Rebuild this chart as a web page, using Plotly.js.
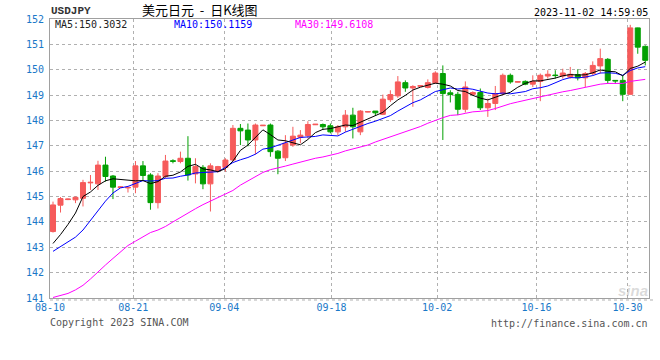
<!DOCTYPE html>
<html>
<head>
<meta charset="utf-8">
<script src="https://cdn.plot.ly/plotly-3.0.1.min.js"></script>
<style>html,body{margin:0;padding:0;background:#fff;}#chart{width:660px;height:360px;}</style>
</head>
<body>
<div id="chart"></div>
<script>
// ---- data (USDJPY daily K) ----
const openV  = [143.62,144.66,144.88,144.87,144.93,145.54,145.50,146.24,145.81,145.36,
                145.34,145.37,146.21,145.85,144.76,145.79,146.41,146.38,146.51,145.89,
                146.15,145.50,146.01,146.15,146.44,147.69,147.62,147.23,147.79,147.82,
                146.79,146.53,147.03,147.34,147.40,147.83,147.84,147.79,147.55,147.75,
                148.21,147.55,148.33,148.37,148.24,148.82,148.97,149.49,149.28,149.35,
                149.30,149.48,149.85,149.09,149.03,148.44,149.03,149.10,148.50,148.67,
                149.06,149.78,149.51,149.54,149.43,149.54,149.75,149.79,149.75,149.71,
                149.81,149.68,149.85,150.15,150.41,149.58,149.58,149.03,151.65,150.92];
const highV  = [144.80,144.98,144.92,145.00,145.66,145.85,146.41,146.57,145.85,145.40,
                145.37,146.40,146.40,145.92,145.92,146.64,146.47,146.77,147.38,146.51,
                146.24,146.31,146.21,146.51,147.82,147.86,147.88,147.88,147.82,147.88,
                146.83,147.42,147.75,147.62,147.97,147.86,147.88,147.88,147.82,148.41,
                148.50,148.41,148.36,148.37,149.02,149.19,149.75,149.58,149.39,149.38,
                149.62,149.94,150.17,149.19,149.13,149.54,149.15,149.26,148.86,149.36,
                149.85,149.85,149.54,149.58,149.78,149.85,149.98,149.98,150.04,150.11,
                150.02,149.91,150.33,150.83,150.46,149.58,149.78,151.77,151.66,150.96];
const lowV   = [143.58,144.37,144.86,144.74,144.61,145.26,145.26,145.59,144.90,145.34,
                145.16,145.13,145.63,144.48,144.53,145.72,146.31,146.31,145.63,145.52,
                145.29,144.41,145.94,145.98,146.38,147.03,146.98,146.66,147.78,146.57,
                145.88,146.40,146.96,147.10,147.29,147.82,147.62,147.49,147.42,147.55,
                147.29,147.42,148.32,148.18,148.21,148.73,148.89,149.13,148.54,149.34,
                149.26,149.45,147.23,148.71,148.21,148.31,148.99,148.41,148.14,148.41,
                148.99,149.45,149.50,149.39,149.32,148.76,149.65,149.65,149.65,149.65,
                149.58,149.32,149.78,149.85,149.45,149.45,148.76,149.02,150.63,150.17];
const closeV = [144.67,144.92,144.90,144.97,145.55,145.56,146.24,145.79,145.37,145.38,
                145.36,146.21,145.83,144.76,145.81,146.40,146.39,146.51,145.85,146.18,
                145.50,146.21,146.18,146.44,147.69,147.59,147.23,147.82,147.81,146.77,
                146.51,147.10,147.38,147.42,147.84,147.85,147.75,147.55,147.75,148.21,
                147.75,148.37,148.35,148.30,148.84,149.02,149.52,149.28,149.34,149.37,
                149.49,149.87,149.06,149.02,148.44,149.32,149.10,148.50,148.67,149.06,
                149.78,149.52,149.53,149.43,149.54,149.78,149.82,149.77,149.87,149.82,
                149.68,149.85,150.17,150.44,149.58,149.56,149.03,151.65,150.89,150.37];
const ma5    = [143.15,143.50,143.90,144.35,145.00,145.18,145.44,145.62,145.70,145.67,
                145.63,145.62,145.63,145.51,145.59,145.80,145.84,145.97,146.19,146.27,
                146.09,146.05,145.98,146.10,146.40,146.82,147.03,147.35,147.63,147.44,
                147.23,147.20,147.11,147.04,147.25,147.52,147.65,147.68,147.75,147.82,
                147.80,147.93,148.09,148.20,148.32,148.58,148.81,148.99,149.20,149.31,
                149.40,149.47,149.43,149.36,149.18,149.14,148.99,148.88,148.81,148.93,
                149.02,149.11,149.31,149.46,149.56,149.56,149.62,149.67,149.76,149.81,
                149.79,149.80,149.88,149.99,149.94,149.92,149.76,150.05,150.14,150.30];
const ma10   = [142.84,143.02,143.19,143.40,143.68,144.06,144.45,144.82,145.14,145.34,
                145.40,145.53,145.63,145.61,145.63,145.72,145.73,145.80,145.85,145.93,
                145.94,145.94,145.98,146.15,146.34,146.45,146.54,146.67,146.87,146.92,
                147.03,147.11,147.23,147.33,147.35,147.37,147.43,147.40,147.39,147.54,
                147.66,147.79,147.88,147.97,148.07,148.19,148.37,148.54,148.70,148.81,
                148.99,149.14,149.21,149.28,149.24,149.27,149.23,149.15,149.08,149.05,
                149.08,149.05,149.09,149.14,149.25,149.29,149.36,149.49,149.61,149.69,
                149.68,149.71,149.77,149.87,149.88,149.86,149.78,149.97,150.07,150.12];
const ma30   = [141.02,141.10,141.18,141.32,141.50,141.75,142.04,142.30,142.56,142.82,
                143.07,143.24,143.42,143.58,143.68,143.82,144.00,144.18,144.35,144.52,
                144.68,144.82,144.93,145.07,145.24,145.45,145.62,145.80,145.95,146.06,
                146.12,146.20,146.28,146.36,146.44,146.51,146.56,146.62,146.70,146.80,
                146.88,146.95,147.03,147.15,147.25,147.34,147.44,147.54,147.65,147.76,
                147.89,148.01,148.11,148.20,148.22,148.28,148.34,148.36,148.39,148.47,
                148.58,148.66,148.73,148.80,148.85,148.92,148.99,149.06,149.13,149.18,
                149.25,149.30,149.36,149.43,149.46,149.47,149.46,149.54,149.59,149.62];
const dateLabels = ['08-10','08-21','09-04','09-18','10-02','10-16','10-30'];
const legendTexts = ['MA5:150.3032','MA10:150.1159','MA30:149.6108'];
const headerSymbol = 'USDJPY';
const headerTitle = '美元日元\u00a0\u00a0-\u00a0\u00a0日K线图';
const timeStamp = '2023-11-02 14:59:05';

// ---- layout helpers ----
const idx = closeV.map((_, i) => i);
const labelPos = [-0.39, 10.71, 22.84, 37.16, 51.24, 64.49, 76.63];
const L = 50, R = 649.5, T = 18.5, B = 298.5;
const px = x => (x - L) / (R - L);
const py = y => (B - y) / (B - T);
const MONO = 'DejaVu Sans Mono, monospace';
const BLUE = '#1a78c8';
const RED = '#f65b5b', GREEN = '#03a003';

const traces = [
  {
    type: 'candlestick', x: idx, open: openV, high: highV, low: lowV, close: closeV,
    increasing: {line: {color: RED, width: 1}, fillcolor: RED},
    decreasing: {line: {color: GREEN, width: 1}, fillcolor: GREEN},
    whiskerwidth: 0, hoverinfo: 'skip'
  },
  {type: 'scatter', mode: 'lines', x: idx, y: ma30, line: {color: '#ff00ff', width: 1}, hoverinfo: 'skip'},
  {type: 'scatter', mode: 'lines', x: idx, y: ma10, line: {color: '#0000ff', width: 1}, hoverinfo: 'skip'},
  {type: 'scatter', mode: 'lines', x: idx, y: ma5, line: {color: '#000000', width: 1}, hoverinfo: 'skip'}
];

function ann(text, x, y, xanchor, color, size, family, extra) {
  return Object.assign({
    text: text, xref: 'paper', yref: 'paper', x: px(x), y: py(y),
    xanchor: xanchor, yanchor: 'middle', showarrow: false, borderpad: 0,
    font: {family: family || MONO, size: size || 10, color: color}
  }, extra || {});
}

const layout = {
  width: 660, height: 360,
  margin: {l: L, r: 660 - R, t: T, b: 360 - B, pad: 0},
  paper_bgcolor: '#ffffff', plot_bgcolor: '#ffffff',
  showlegend: false, hovermode: false,
  boxgap: 0.3, boxgroupgap: 0.05,
  xaxis: {
    type: 'linear', range: [-0.4, 79.5], fixedrange: true,
    rangeslider: {visible: false},
    tickmode: 'array', tickvals: labelPos, ticktext: dateLabels,
    showgrid: true, gridcolor: '#b0b0b0', griddash: 'dot', gridwidth: 1,
    showline: true, linecolor: '#a0a0a0', linewidth: 1, mirror: true,
    zeroline: false, ticks: '', ticklabelstandoff: 0,
    tickfont: {family: MONO, size: 10, color: BLUE}
  },
  yaxis: {
    range: [141, 152], dtick: 1, tick0: 141, fixedrange: true,
    showgrid: true, gridcolor: '#b0b0b0', griddash: 'dot', gridwidth: 1,
    showline: true, linecolor: '#a0a0a0', linewidth: 1, mirror: true,
    zeroline: false, ticks: '', ticklabelstandoff: 3,
    tickfont: {family: MONO, size: 10, color: BLUE}
  },
  shapes: [
    {type: 'line', xref: 'paper', yref: 'paper', x0: 0, x1: px(655), y0: py(300.5), y1: py(300.5),
     line: {color: '#b0b0b0', width: 1, dash: 'dot'}}
  ],
  annotations: [
    ann(headerSymbol, 50, 10.5, 'left', '#333333', 11, 'Liberation Mono, monospace', {font: {family: 'Liberation Mono, monospace', size: 11, color: '#333', weight: 'bold'}}),
    ann(headerTitle, 200.3, 9.2, 'center', '#000000', 13, 'Noto Sans CJK SC, sans-serif'),
    ann(timeStamp, 650, 11.7, 'right', '#000000', 10),
    ann(legendTexts[0], 54, 24, 'left', '#222222', 10),
    ann(legendTexts[1], 173, 24, 'left', '#0000ff', 10),
    ann(legendTexts[2], 294, 24, 'left', '#ff00ff', 10),
    ann('Copyright 2023 SINA.COM', 49, 323.5, 'left', '#555555', 10),
    ann('http://finance.sina.com.cn', 650, 323.7, 'right', '#555555', 10),
    ann('<i><b>sina</b></i>', 633, 291, 'center', 'rgba(150,150,150,0.35)', 15, 'Liberation Sans, sans-serif')
  ]
};

Plotly.newPlot('chart', traces, layout, {staticPlot: true, displayModeBar: false});
</script>
</body>
</html>
